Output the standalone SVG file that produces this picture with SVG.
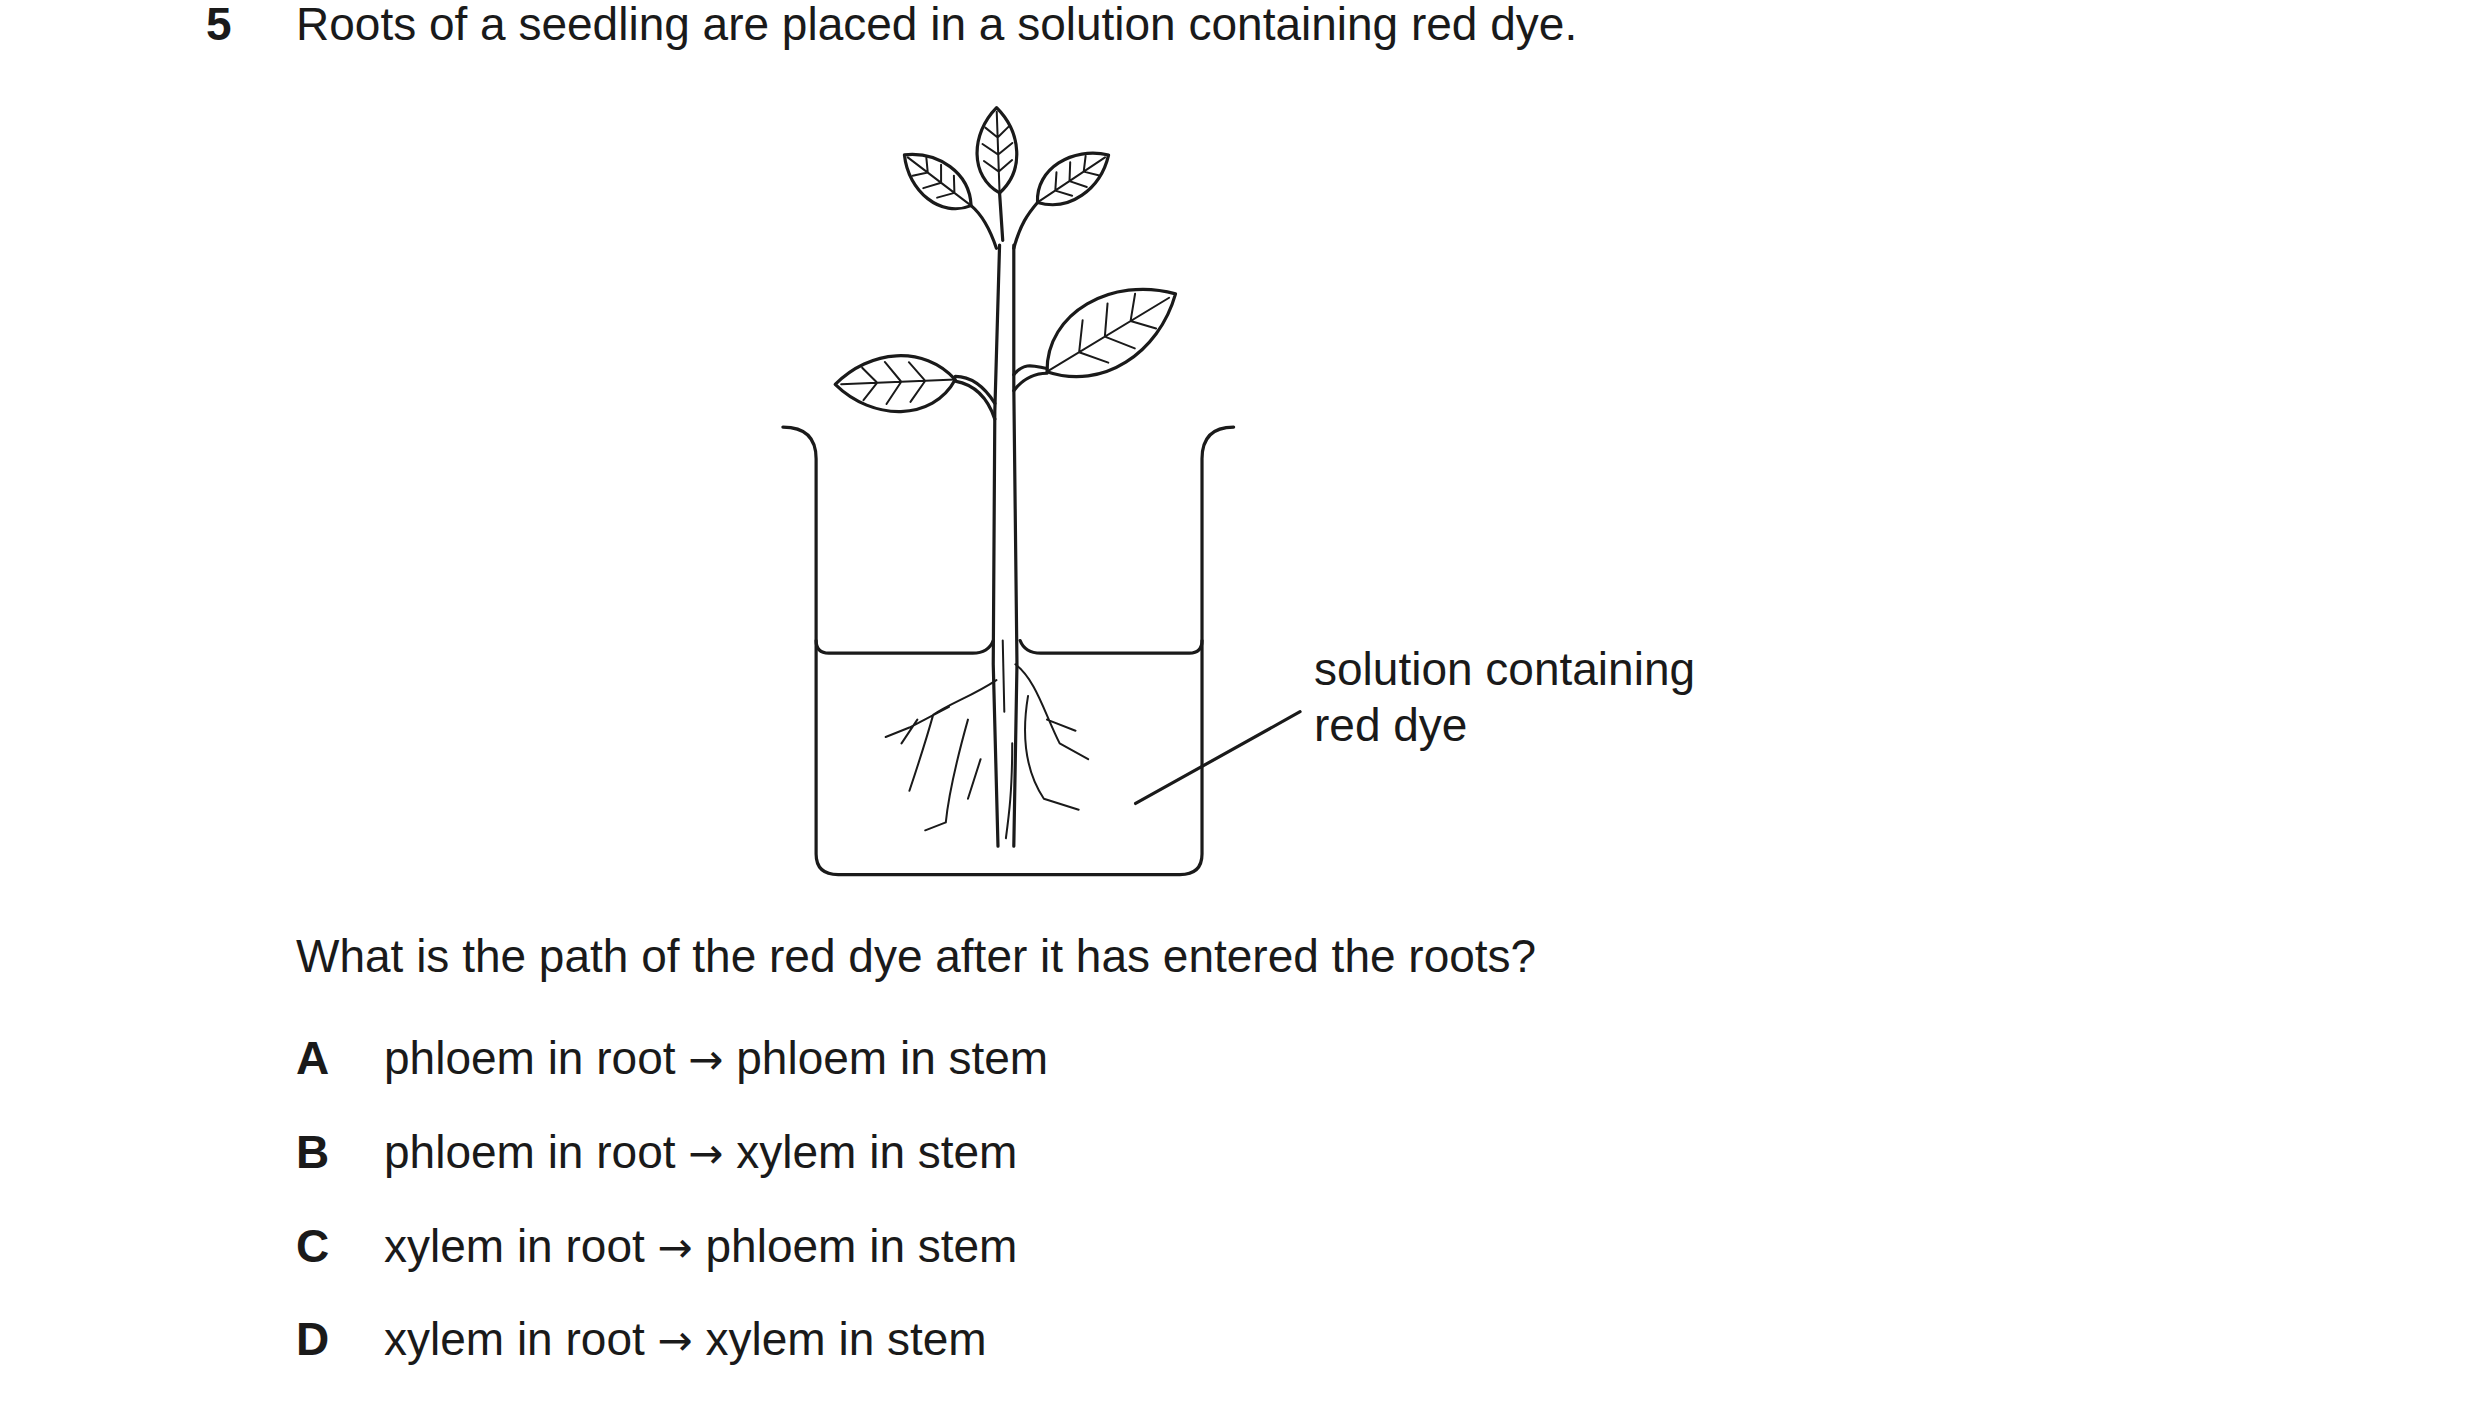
<svg xmlns="http://www.w3.org/2000/svg" width="2480" height="1406" viewBox="0 0 2480 1406">
<style>
text{font-family:"Liberation Sans",Arial,sans-serif;font-size:46px;fill:#1a1a1a}
.b{font-weight:bold}
.ar{font-family:"DejaVu Sans",sans-serif;font-size:42px}
.ln{fill:none;stroke:#1a1a1a;stroke-width:3.2;stroke-linecap:round;stroke-linejoin:round;vector-effect:non-scaling-stroke}
.th{stroke-width:2}
</style>
<defs>
<g id="leaf">
<path class="ln" fill="#fff" d="M0,0 C20,-34 70,-32 100,0 C70,28 25,30 0,0 Z"/>
<path class="ln th" d="M0,0 L95,0 M25,0 L38,-17 M45,0 L58,-18 M65,0 L77,-14 M25,0 L38,16 M45,0 L58,17 M65,0 L77,13"/>
</g>
</defs>
<rect width="2480" height="1406" fill="#fff"/>
<text class="b" x="206" y="40">5</text>
<text x="296" y="40">Roots of a seedling are placed in a solution containing red dye.</text>
<g id="diagram" transform="scale(1.5816)">
<path class="ln" d="M495,270 Q516,270 516,290 L516,540 Q516,553 530,553 L746,553 Q760,553 760,540 L760,290 Q760,270 780,270"/>
<path class="ln" d="M516,405 Q516,413 524,413 L615,413 Q625,413 628,405 M645,405 Q648,413 658,413 L752,413 Q760,413 760,405"/>
<path class="ln" d="M632,155 L629,260 L628,420 L631,535 M641,155 L641,245 L643,420 L641,535"/>
<path class="ln" d="M630,157 C625,142 620,135 614,130 M634,152 L632,122 M641,157 C645,142 650,135 656,128"/>
<path class="ln" d="M629,265 C624,250 615,243 604,241 M629,255 C622,244 614,238 604,238 M641,247 C648,238 655,236 662,236 M641,237 C648,228 655,232 662,233"/>
<path class="ln th" d="M630,430 C615,440 600,445 590,452 M600,447 L575,460 L560,466 M580,455 L570,470 M590,452 C585,470 580,485 575,500 M612,455 C605,480 600,500 598,520 M598,520 L585,525 M634,405 L635,450 M642,420 C655,430 660,450 670,470 L688,480 M662,455 L680,462 M650,440 C645,470 650,490 660,505 L682,512 M640,470 C640,500 638,515 636,530 M620,480 L612,505"/>
<use href="#leaf" transform="translate(632,122) rotate(-92) scale(0.54)"/>
<use href="#leaf" transform="translate(614,130) rotate(-142.7) scale(0.53)"/>
<use href="#leaf" transform="translate(656,128) rotate(-33.7) scale(0.54)"/>
<use href="#leaf" transform="translate(604,240) rotate(177.7) scale(0.76)"/>
<use href="#leaf" transform="translate(662,235) rotate(-31.2) scale(0.95)"/>
<path class="ln" d="M718,508 L822,450"/>
</g>
<text x="1314" y="685">solution containing</text>
<text x="1314" y="741">red dye</text>
<text x="296" y="972">What is the path of the red dye after it has entered the roots?</text>
<text class="b" x="296" y="1074">A</text><text x="384" y="1074">phloem in root <tspan class="ar">→</tspan> phloem in stem</text>
<text class="b" x="296" y="1168">B</text><text x="384" y="1168">phloem in root <tspan class="ar">→</tspan> xylem in stem</text>
<text class="b" x="296" y="1262">C</text><text x="384" y="1262">xylem in root <tspan class="ar">→</tspan> phloem in stem</text>
<text class="b" x="296" y="1355">D</text><text x="384" y="1355">xylem in root <tspan class="ar">→</tspan> xylem in stem</text>
</svg>
